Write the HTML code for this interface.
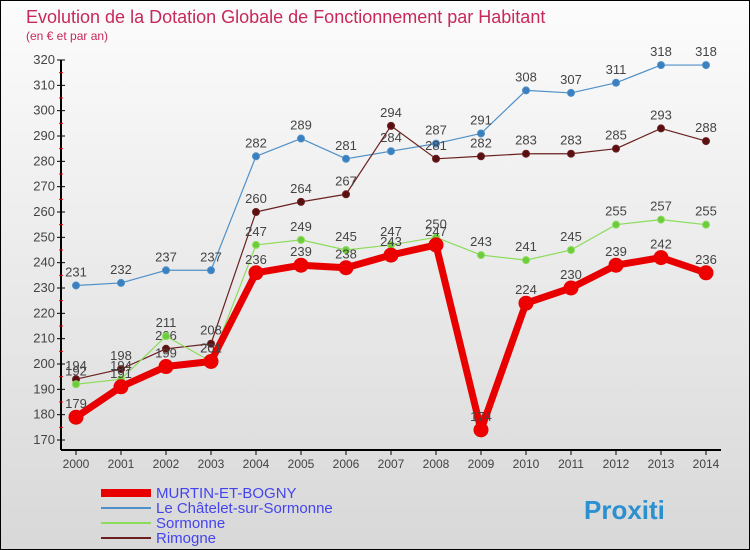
<!DOCTYPE html>
<html><head><meta charset="utf-8"><style>
body{margin:0}
#c{width:748px;height:548px;border:1px solid #000;background:linear-gradient(#fcfcfc,#d8d8d8);position:relative;font-family:"Liberation Sans","DejaVu Sans",sans-serif;overflow:hidden}
</style></head><body>
<div id="c">
<svg id="s" width="748" height="548" xmlns="http://www.w3.org/2000/svg"></svg>
</div>
<script>
const years=[2000,2001,2002,2003,2004,2005,2006,2007,2008,2009,2010,2011,2012,2013,2014];
const murtin=[179,191,199,201,236,239,238,243,247,174,224,230,239,242,236];
const chatelet=[231,232,237,237,282,289,281,284,287,291,308,307,311,318,318];
const sormonne=[192,194,211,201,247,249,245,247,250,243,241,245,255,257,255];
const rimogne=[194,198,206,208,260,264,267,294,281,282,283,283,285,293,288];
const yTicks=[170,180,190,200,210,220,230,240,250,260,270,280,290,300,310,320];
const s=document.getElementById('s');
const NS='http://www.w3.org/2000/svg';
const X=i=>75+i*45;
const Y=v=>439-(v-170)*(380/150);
function el(t,a,p){const e=document.createElementNS(NS,t);for(const k in a)e.setAttribute(k,a[k]);(p||s).appendChild(e);return e;}
function txt(x,y,t,a,p){const e=el('text',Object.assign({x:x,y:y,'font-size':12,fill:'#444'},a||{}),p);e.textContent=t;return e;}
let e;
e=txt(25,22,'Evolution de la Dotation Globale de Fonctionnement par Habitant',{'font-size':18,fill:'#c8285a'});

e=txt(25,39,'(en € et par an)',{'font-size':12,fill:'#c8285a'});

e=el('line',{x1:60,y1:Y(320),x2:60,y2:449,stroke:'#000','stroke-width':2});

e=el('line',{x1:60,y1:449,x2:720,y2:449,stroke:'#000','stroke-width':2});

yTicks.forEach(v=>{
 el('line',{x1:56,y1:Y(v),x2:64,y2:Y(v),stroke:'#000'});
 if(v<320)el('line',{x1:58,y1:Y(v+5),x2:62,y2:Y(v+5),stroke:'#e00'});
 e=txt(54,Y(v)+4,v,{'text-anchor':'end','font-size':13});
 
});
years.forEach((y,i)=>{
 el('line',{x1:X(i),y1:449,x2:X(i),y2:454,stroke:'#000'});
 e=txt(X(i),467,y,{'text-anchor':'middle','font-size':12});
 
});
function series(data,color,w,r,name,fillc){
 const g=el('g',{});
 
 el('polyline',{points:data.map((v,i)=>X(i)+','+Y(v)).join(' '),fill:'none',stroke:color,'stroke-width':w,'stroke-linejoin':'round'},g);
 data.forEach((v,i)=>{
  const c=el('circle',{cx:X(i),cy:Y(v),r:r,fill:fillc||color,stroke:color,'stroke-width':1},g);
  
  txt(X(i),Y(v)-9,v,{'text-anchor':'middle',fill:'#444','font-size':13},g);
 });
}
series(chatelet,'#4f90c8',1.2,3.5,'series-chatelet','#3a80c0');
series(rimogne,'#6a2020',1.2,3.5,'series-rimogne','#5a1010');
series(sormonne,'#8cdc5c',1.2,3.5,'series-sormonne','#6ccc3c');
series(murtin,'#e80000',7,7,'series-murtin','#ee0000');
const leg=[['MURTIN-ET-BOGNY','#e80000',8],['Le Châtelet-sur-Sormonne','#4f90c8',2],['Sormonne','#8cdc5c',2],['Rimogne','#6a2020',2]];
leg.forEach((l,i)=>{
 const g=el('g',{});
 
 const y=492+i*15;
 el('line',{x1:100,y1:y,x2:150,y2:y,stroke:l[1],'stroke-width':l[2]},g);
 txt(155,y+5,l[0],{'font-size':15,fill:'#4444ee'},g);
});
e=txt(583,518,'Proxiti',{'font-size':26,'font-weight':'bold',fill:'#2a90d0'});

</script>
</body></html>
